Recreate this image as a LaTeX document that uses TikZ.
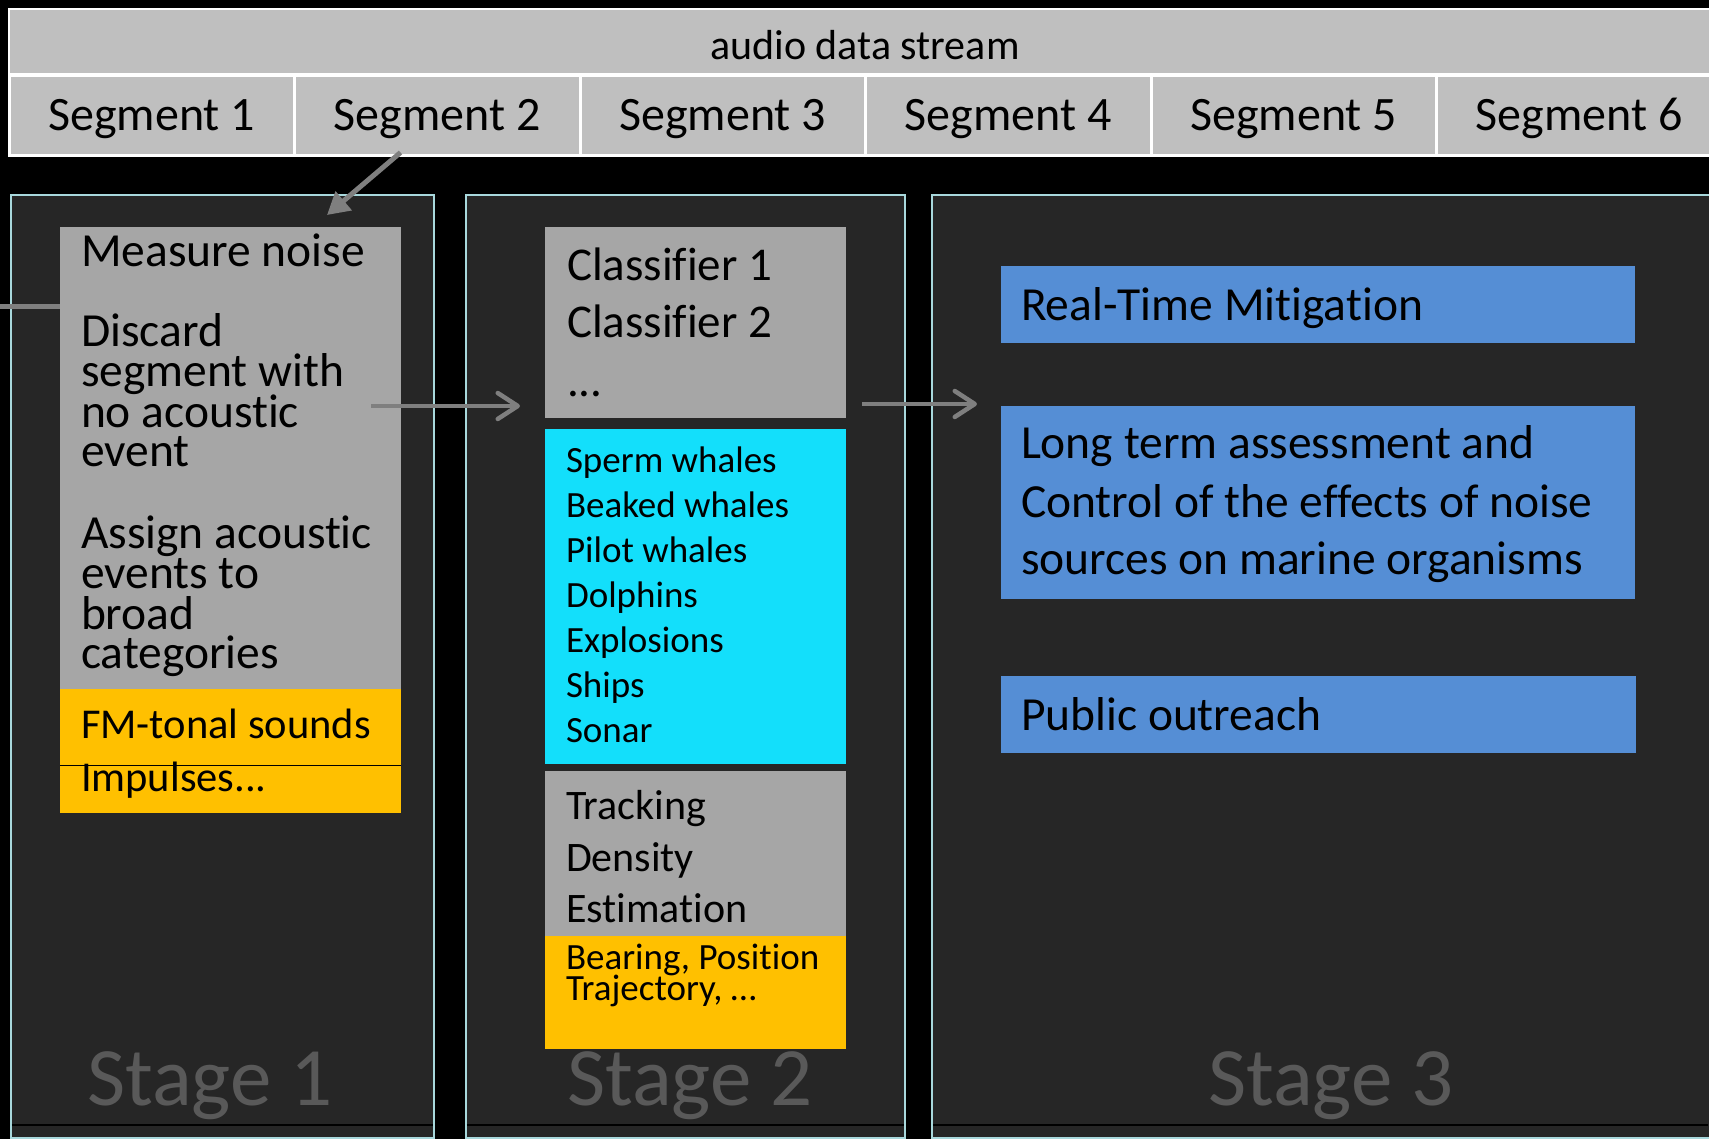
\documentclass[tikz,border=0pt]{standalone}
\usepackage{fontspec}
\setmainfont{Carlito}[Ligatures=NoCommon]
\usetikzlibrary{arrows.meta,calc}

\definecolor{band}{HTML}{BFBFBF}
\definecolor{panelfill}{HTML}{262626}
\definecolor{panelline}{HTML}{A8D8DC}
\definecolor{boxgray}{HTML}{A6A6A6}
\definecolor{boxorange}{HTML}{FFC000}
\definecolor{boxcyan}{HTML}{13DFFB}
\definecolor{boxblue}{HTML}{558ED5}
\definecolor{stagegray}{HTML}{595959}
\definecolor{flowgray}{HTML}{7F7F7F}

\newcommand\fsz[1]{\fontsize{#1}{#1}\selectfont}

\begin{document}
\begin{tikzpicture}[x=1pt,y=-1pt,
  area/.style={rectangle, inner sep=0pt, outer sep=0pt, anchor=north west},
  cell/.style={area, fill=band, draw=white},
  panel/.style={area, fill=panelfill, draw=panelline, line width=1.5pt},
  block/.style={area, fill=#1},
  txt/.style={inner sep=0pt, outer sep=0pt, anchor=base west, text=black, font=\fsz{#1}},
  stagelabel/.style={inner sep=0pt, anchor=base west, text=stagegray, font=\fsz{83}},
  flow/.style={draw=flowgray, line width=4.5pt},
  barb/.style={-{Straight Barb[length=20pt,width=26pt,round]}}
]
\useasboundingbox (0,0) rectangle (1709,1139);
\fill[black] (0,0) rectangle (1709,1139);

% audio stream band and its segments
\node[cell, line width=2pt, minimum width=1720pt, minimum height=65pt] (stream) at (9,9.5) {};
\node[txt=42, anchor=base] (streamtxt) at (865,60) {audio data stream};
\foreach \i in {1,...,6} {
  \node[cell, line width=3pt, minimum width=285.5pt, minimum height=80pt] (seg\i) at ({9+(\i-1)*285.5},75.5) {};
  \node[txt=48, anchor=base] (segtxt\i) at ($(seg\i.north)+(0,55)$) {Segment \i};
}

% stage panels
\node[panel, minimum width=423pt, minimum height=943pt] (stage1) at (11,195) {};
\node[panel, minimum width=439pt, minimum height=943pt] (stage2) at (466,195) {};
\node[panel, minimum width=790pt, minimum height=943pt] (stage3) at (932,195) {};
\foreach \a/\b in {11/434, 466/905, 932/1709}
  \draw[black, line width=1.2pt] (\a+0.8,1125) -- (\b-0.8,1125);

% stage 1 blocks
\node[block=boxgray, minimum width=341pt, minimum height=462pt] (g1) at (60,227) {};
\node[block=boxorange, minimum width=341pt, minimum height=124pt] (o1) at (60,689) {};
\draw[black, line width=1pt] (o1.west |- 0,765) -- (o1.east |- 0,765);

\foreach \t/\yy [count=\k] in {Measure noise/267, Discard/347, segment with/387,
    no acoustic/428, event/467, Assign acoustic/548, events to/588, broad/629,
    categories/668}
  \node[txt=47.5] (s1t\k) at (81,\yy) {\t};
\node[txt=42.5] (s1fm) at (81,738) {FM-tonal sounds};
\node[txt=42.5] (s1imp) at (81,791) {Impulses...};

% stage 2 blocks
\node[block=boxgray, minimum width=301pt, minimum height=191pt] (cls) at (545,227) {};
\node[block=boxcyan, minimum width=301pt, minimum height=335pt] (kinds) at (545,429) {};
\node[block=boxgray, minimum width=301pt, minimum height=165pt] (trk) at (545,771) {};
\node[block=boxorange, minimum width=301pt, minimum height=113pt] (o2) at (545,936) {};

\node[txt=47] (clt1) at (567,281) {Classifier 1};
\node[txt=47] (clt2) at (567,338) {Classifier 2};
\node[txt=47] (clt3) at (567,397) {...};
\foreach \t/\yy [count=\k] in {Sperm whales/473, Beaked whales/517, Pilot whales/562,
    Dolphins/607, Explosions/652, Ships/697, Sonar/742}
  \node[txt=37] (kt\k) at (566,\yy) {\t};
\foreach \t/\yy [count=\k] in {Tracking/819, Density/871, Estimation/922}
  \node[txt=42] (tt\k) at (566,\yy) {\t};
\node[txt=37] (ot1) at (566,969) {Bearing, Position};
\node[txt=37] (ot2) at (566,1000) {Trajectory, …};

% stage 3 blocks
\node[block=boxblue, minimum width=634pt, minimum height=77pt] (rt) at (1001,266) {};
\node[block=boxblue, minimum width=634pt, minimum height=193pt] (lt) at (1001,406) {};
\node[block=boxblue, minimum width=635pt, minimum height=77pt] (po) at (1001,676) {};
\node[txt=47.5] (rtt) at (1021,321) {Real-Time Mitigation};
\node[txt=47.5] (ltt1) at (1021,459) {Long term assessment and};
\node[txt=47.5] (ltt2) at (1021,517) {Control of the effects of noise};
\node[txt=47.5] (ltt3) at (1021,574) {sources on marine organisms};
\node[txt=47.5] (pot) at (1021,730) {Public outreach};

% stage labels
\node[stagelabel] (lab1) at (87,1105) {Stage 1};
\node[stagelabel] (lab2) at (567,1105) {Stage 2};
\node[stagelabel] (lab3) at (1208,1105) {Stage 3};

% flow connectors
\coordinate (tap) at ($(seg2.south west)+(106,-3)$);
\coordinate (drop) at ($(g1.north west)+(267,-12)$);
\draw[flow, line width=5pt, -{Triangle[length=22pt,width=24pt]}] (tap) -- (drop);

\coordinate (feed) at (0,307);
\draw[flow, line width=5pt] (feed) -- (feed -| g1.west);

\coordinate (a1s) at (371,406);
\coordinate (a1e) at (520,406);
\draw[flow, barb] (a1s) -- (a1e);

\coordinate (a2s) at (862,404);
\coordinate (a2e) at (977,404);
\draw[flow, barb] (a2s) -- (a2e);
\end{tikzpicture}
\end{document}
